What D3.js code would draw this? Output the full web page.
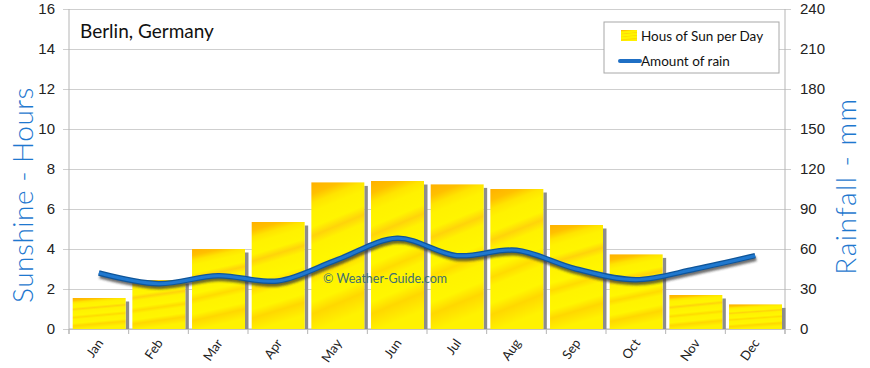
<!DOCTYPE html>
<html>
<head>
<meta charset="utf-8">
<script src="https://d3js.org/d3.v7.min.js"></script>
<style>
  body { margin: 0; background: #fff; }
  svg { display: block; font-family: Lato, "Open Sans", sans-serif; }
  .axis path { display: none; }
  .axis text { font-size: 15px; fill: #222; }
  .grid line { stroke: #cfcfcf; }
  .grid path { display: none; }
</style>
</head>
<body>
<div id="chart"></div>
<script>
// chart values
var months = ["Jan", "Feb", "Mar", "Apr", "May", "Jun", "Jul", "Aug", "Sep", "Oct", "Nov", "Dec"];
var sunHours = [1.55, 2.45, 4.0, 5.35, 7.33, 7.4, 7.23, 7.0, 5.2, 3.73, 1.7, 1.23];
var rainMm = [42, 34, 40, 36, 52, 68, 55, 59, 45, 37, 45, 55];
var sunTicks = [0, 2, 4, 6, 8, 10, 12, 14, 16];
var rainTicks = [0, 30, 60, 90, 120, 150, 180, 210, 240];

var w = 870, h = 368;
var margin = {top: 9, right: 85, bottom: 39, left: 69};
var width = w - margin.left - margin.right;
var height = h - margin.top - margin.bottom;

var xScale = d3.scaleBand().domain(months).range([0, width]);
var ySun = d3.scaleLinear().domain([0, 16]).range([height, 0]);
var yRain = d3.scaleLinear().domain([0, 240]).range([height, 0]);

var svg = d3.select("#chart").append("svg")
    .attr("width", w).attr("height", h);

var defs = svg.append("defs");
// yellow bar fill with orange streaks
var grad = defs.append("linearGradient").attr("id", "sunFill")
    .attr("x1", 0).attr("y1", 0).attr("x2", 0.15).attr("y2", 1);
[[0, "#ffb000"], [0.08, "#ffc000"], [0.14, "#ffe400"], [0.2, "#fff200"],
 [0.3, "#fff500"], [0.36, "#ffd40a"], [0.42, "#fff200"], [0.55, "#fff700"],
 [0.62, "#ffdc00"], [0.68, "#fff300"], [0.8, "#fff600"], [0.88, "#ffd800"], [1, "#fff200"]]
  .forEach(function(s) { grad.append("stop").attr("offset", s[0]).attr("stop-color", s[1]); });

var blur = defs.append("filter").attr("id", "soft").attr("x", "-10%").attr("y", "-30%")
    .attr("width", "120%").attr("height", "160%");
blur.append("feGaussianBlur").attr("stdDeviation", 1.3);

var g = svg.append("g").attr("transform", "translate(" + margin.left + "," + margin.top + ")");

// grid lines
g.append("g").attr("class", "grid")
    .call(d3.axisLeft(ySun).tickValues(sunTicks).tickSize(-width).tickFormat(""));

// left axis
g.append("g").attr("class", "axis")
    .call(d3.axisLeft(ySun).tickValues(sunTicks).tickSize(6).tickPadding(8))
    .selectAll("line").attr("stroke", "#cfcfcf");

// right axis
g.append("g").attr("class", "axis")
    .attr("transform", "translate(" + width + ",0)")
    .call(d3.axisRight(yRain).tickValues(rainTicks).tickSize(6).tickPadding(9))
    .selectAll("line").attr("stroke", "#cfcfcf");

// vertical axis lines
g.append("line").attr("x1", 0).attr("x2", 0).attr("y1", 0).attr("y2", height + 5)
    .attr("stroke", "#b5b5b5");
g.append("line").attr("x1", width).attr("x2", width).attr("y1", 0).attr("y2", height + 5)
    .attr("stroke", "#b5b5b5");
g.append("line").attr("x1", 0).attr("x2", width).attr("y1", height).attr("y2", height)
    .attr("stroke", "#b5b5b5");

// bottom ticks at band edges
g.selectAll("line.xtick")
    .data(months.concat(["end"]))
    .enter().append("line")
    .attr("class", "xtick")
    .attr("x1", function(d, i) { return i * xScale.step(); })
    .attr("x2", function(d, i) { return i * xScale.step(); })
    .attr("y1", height).attr("y2", height + 5)
    .attr("stroke", "#b5b5b5");

// bars: shadow then bar
var bw = xScale.bandwidth();
g.selectAll("rect.shadow")
    .data(sunHours)
    .enter().append("rect")
    .attr("class", "shadow")
    .attr("x", function(d, i) { return xScale(months[i]) + bw - 3; })
    .attr("y", function(d) { return ySun(d) + 3.5; })
    .attr("width", 3.5)
    .attr("height", function(d) { return height - ySun(d) - 3.5; })
    .attr("fill", "#8c8c8c");

g.selectAll("rect.bar")
    .data(sunHours)
    .enter().append("rect")
    .attr("class", "bar")
    .attr("x", function(d, i) { return xScale(months[i]) + 3.7; })
    .attr("y", function(d) { return ySun(d); })
    .attr("width", bw - 6.7)
    .attr("height", function(d) { return height - ySun(d); })
    .attr("fill", "url(#sunFill)");

// watermark
g.append("text")
    .attr("x", 254).attr("y", 274)
    .style("font-size", "12.5px").style("fill", "#3e6f72")
    .text("\u00a9  Weather-Guide.com");

// rain line
var line = d3.line()
    .x(function(d, i) { return xScale(months[i]) + xScale.bandwidth() / 2; })
    .y(function(d) { return yRain(d); })
    .curve(d3.curveCatmullRom.alpha(0.5));

g.append("path").datum(rainMm)
    .attr("d", line)
    .attr("transform", "translate(1,3)")
    .attr("fill", "none").attr("stroke", "#333").attr("stroke-opacity", 0.7)
    .attr("stroke-width", 5).attr("filter", "url(#soft)");
g.append("path").datum(rainMm)
    .attr("d", line)
    .attr("fill", "none").attr("stroke", "#0f5599").attr("stroke-width", 5.5);
g.append("path").datum(rainMm)
    .attr("d", line)
    .attr("fill", "none").attr("stroke", "#1f78cf").attr("stroke-width", 3);

// month labels
g.selectAll("text.month")
    .data(months)
    .enter().append("text")
    .attr("class", "month")
    .attr("text-anchor", "end")
    .attr("transform", function(d) {
        return "translate(" + (xScale(d) + bw / 2 + 5) + "," + (height + 14) + ") rotate(-55)";
    })
    .style("font-size", "13px").style("fill", "#222")
    .text(function(d) { return d; });

// title
svg.append("text")
    .attr("x", 80).attr("y", 38)
    .style("font-size", "19px").style("fill", "#111")
    .text("Berlin, Germany");

// axis titles
svg.append("text")
    .attr("transform", "translate(33,195) rotate(-90)")
    .attr("text-anchor", "middle")
    .style("font-size", "28px").style("font-weight", 300)
    .style("letter-spacing", "0.5px").style("fill", "#1f78cf")
    .text("Sunshine - Hours");
svg.append("text")
    .attr("transform", "translate(856,186) rotate(-90)")
    .attr("text-anchor", "middle")
    .style("font-size", "28px").style("font-weight", 300)
    .style("letter-spacing", "1.5px").style("fill", "#1f78cf")
    .text("Rainfall - mm");

// legend
var lg = svg.append("g").attr("transform", "translate(604,22)");
lg.append("rect").attr("width", 175).attr("height", 51)
    .attr("fill", "#fff").attr("stroke", "#a8a8a8");
lg.append("rect").attr("x", 17).attr("y", 8).attr("width", 16).attr("height", 11)
    .attr("fill", "url(#sunFill)");
lg.append("text").attr("x", 37).attr("y", 19)
    .style("font-size", "13.5px").style("fill", "#111").text("Hous of Sun per Day");
lg.append("line").attr("x1", 16).attr("x2", 36).attr("y1", 39).attr("y2", 39)
    .attr("stroke", "#1f6fc4").attr("stroke-width", 4).attr("stroke-linecap", "round");
lg.append("text").attr("x", 37).attr("y", 44)
    .style("font-size", "13.5px").style("fill", "#111").text("Amount of rain");
</script>
</body>
</html>
